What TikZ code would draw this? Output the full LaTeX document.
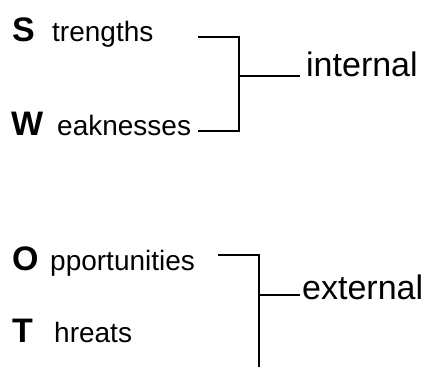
\documentclass[tikz,border=0pt]{standalone}
\usepackage{fontspec}
\setmainfont{Liberation Sans}
\begin{document}
\begin{tikzpicture}[x=1pt,y=-1pt,
  initial/.style={anchor=base west, inner sep=0pt, font=\bfseries\fontsize{34}{40}\selectfont},
  rest/.style={anchor=base west, inner sep=0pt, font=\fontsize{28}{34}\selectfont},
  group/.style={anchor=base west, inner sep=0pt, font=\fontsize{34}{40}\selectfont},
  bracket/.style={line width=1.7pt}]
\useasboundingbox (0,0) rectangle (429,367);

% SWOT words: bold initial plus the rest of the word
\node[initial] (S) at (12,41) {S};
\node[rest] (Str) at (52,41) {trengths};
\node[initial] (W) at (11,135) {W};
\node[rest] (Wk) at (57,135) {eaknesses};
\node[initial] (O) at (12,270) {O};
\node[rest] (Op) at (50,270) {pportunities};
\node[initial] (T) at (12,342) {T};
\node[rest] (Th) at (54,342) {hreats};

% group labels
\node[group] (int) at (306,76) {internal};
\node[group] (ext) at (302,299) {external};

% bracket joining strengths and weaknesses
\coordinate (a1) at (198,37);
\coordinate (a2) at (239,37);
\coordinate (a3) at (239,131);
\coordinate (a4) at (198,131);
\coordinate (am) at (239,76);
\coordinate (aend) at (300,76);
\draw[bracket] (a1) -- (a2) -- (a3) -- (a4);
\draw[bracket] (am) -- (aend);

% bracket joining opportunities and threats
\coordinate (b1) at (218,255);
\coordinate (b2) at (259,255);
\coordinate (b3) at (259,367);
\coordinate (bm) at (259,295);
\coordinate (bend) at (300,295);
\draw[bracket] (b1) -- (b2) -- (b3);
\draw[bracket] (bm) -- (bend);
\end{tikzpicture}
\end{document}
